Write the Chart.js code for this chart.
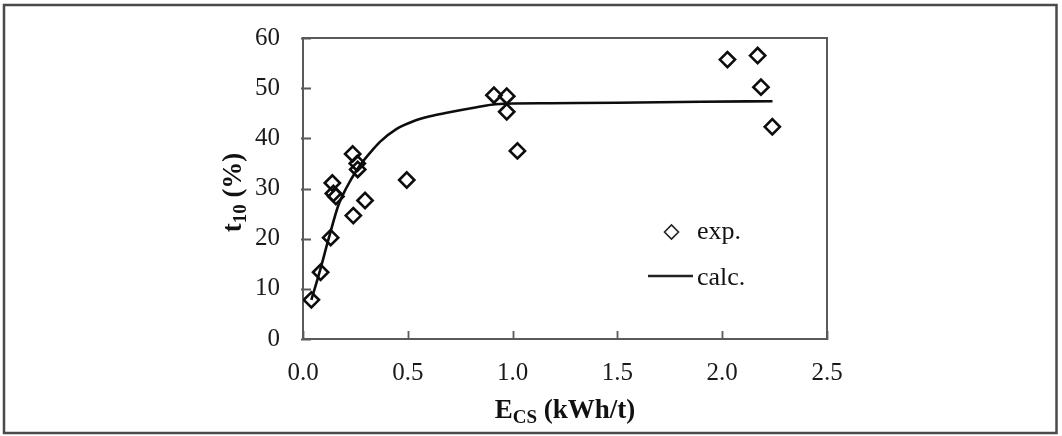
<!DOCTYPE html>
<html>
<head>
<meta charset="utf-8">
<script src="https://cdn.jsdelivr.net/npm/chart.js@4.4.0/dist/chart.umd.min.js"></script>
<style>
html,body{margin:0;padding:0;background:#ffffff;}
canvas{display:block;}
</style>
</head>
<body>
<canvas id="c" width="1062" height="436"></canvas>
<script>
// ---- data ----
const expE   = [0.04, 0.084, 0.132, 0.140, 0.145, 0.157, 0.240, 0.237, 0.259, 0.261, 0.296, 0.495, 0.911, 0.972, 0.972, 1.023, 2.025, 2.169, 2.185, 2.239];
const expT10 = [7.8, 13.3, 20.2, 31.1, 29.0, 28.4, 24.6, 36.9, 35.0, 33.8, 27.6, 31.7, 48.6, 48.4, 45.3, 37.5, 55.7, 56.5, 50.2, 42.3];
const calcE   = [0.04, 0.08, 0.125, 0.17, 0.208, 0.255, 0.288, 0.33, 0.367, 0.447, 0.526, 0.606, 0.686, 0.829, 0.92, 1.18, 1.50, 1.90, 2.24];
const calcT10 = [7.8, 13.5, 20.4, 26.8, 30.2, 33.6, 35.5, 37.6, 39.3, 41.9, 43.4, 44.4, 45.1, 46.2, 46.8, 47.0, 47.1, 47.3, 47.4];
const xTickValues = [0.0, 0.5, 1.0, 1.5, 2.0, 2.5];
const yTickValues = [0, 10, 20, 30, 40, 50, 60];
const seriesNames = ['exp.', 'calc.'];
const xTitleParts = ['E', 'CS', ' (kWh/t)'];
const yTitleParts = ['t', '10', ' (%)'];

const SERIF = '"Liberation Serif", "Times New Roman", serif';

const decorPlugin = {
  id: 'decor',
  beforeDatasetsDraw(chart) {
    const ctx = chart.ctx;
    const a = chart.chartArea;
    const xs = chart.scales.x, ys = chart.scales.y;
    ctx.save();
    // outer picture frame
    ctx.strokeStyle = '#4a4a4a';
    ctx.lineWidth = 2.5;
    ctx.strokeRect(4, 5, 1052.5, 428);
    // plot frame
    ctx.strokeStyle = '#5a5a5a';
    ctx.lineWidth = 2;
    ctx.strokeRect(a.left, a.top, a.right - a.left, a.bottom - a.top);
    // tick marks (inside)
    ctx.lineWidth = 1.8;
    ctx.beginPath();
    yTickValues.forEach(v => {
      const py = Math.round(ys.getPixelForValue(v)) + 0.5;
      ctx.moveTo(a.left - 2, py); ctx.lineTo(a.left + 8, py);
    });
    xTickValues.forEach(v => {
      const px = Math.round(xs.getPixelForValue(v)) + 0.5;
      ctx.moveTo(px, a.bottom + 1); ctx.lineTo(px, a.bottom - 8);
    });
    ctx.stroke();
    ctx.restore();
  },
  afterDraw(chart) {
    const ctx = chart.ctx;
    const a = chart.chartArea;
    ctx.save();
    ctx.fillStyle = '#111';
    // x title with subscript
    const big = 'bold 27px ' + SERIF, small = 'bold 19px ' + SERIF;
    ctx.font = big; const w0 = ctx.measureText(xTitleParts[0]).width;
    ctx.font = small; const w1 = ctx.measureText(xTitleParts[1]).width;
    ctx.font = big; const w2 = ctx.measureText(xTitleParts[2]).width;
    let x = (a.left + a.right) / 2 - (w0 + w1 + w2) / 2;
    const base = 418;
    ctx.textBaseline = 'alphabetic'; ctx.textAlign = 'left';
    ctx.font = big; ctx.fillText(xTitleParts[0], x, base); x += w0;
    ctx.font = small; ctx.fillText(xTitleParts[1], x, base + 5); x += w1;
    ctx.font = big; ctx.fillText(xTitleParts[2], x, base);
    // y title rotated
    ctx.font = big; const v0 = ctx.measureText(yTitleParts[0]).width;
    ctx.font = small; const v1 = ctx.measureText(yTitleParts[1]).width;
    ctx.font = big; const v2 = ctx.measureText(yTitleParts[2]).width;
    ctx.translate(241, (a.top + a.bottom) / 2 + 4);
    ctx.rotate(-Math.PI / 2);
    let t = -(v0 + v1 + v2) / 2;
    ctx.font = big; ctx.fillText(yTitleParts[0], t, 0); t += v0;
    ctx.font = small; ctx.fillText(yTitleParts[1], t, 5); t += v1;
    ctx.font = big; ctx.fillText(yTitleParts[2], t, 0);
    ctx.setTransform(1, 0, 0, 1, 0, 0);
    // legend
    ctx.font = '26px ' + SERIF;
    ctx.fillStyle = '#111';
    ctx.strokeStyle = '#222';
    ctx.lineWidth = 1.6;
    ctx.beginPath();
    const dx = 671.5, dy = 232, r = 7;
    ctx.moveTo(dx - r, dy); ctx.lineTo(dx, dy - r); ctx.lineTo(dx + r, dy); ctx.lineTo(dx, dy + r); ctx.closePath();
    ctx.stroke();
    ctx.fillText(seriesNames[0], 697, 239);
    ctx.lineWidth = 2.6;
    ctx.beginPath(); ctx.moveTo(648, 276); ctx.lineTo(693, 276); ctx.stroke();
    ctx.fillText(seriesNames[1], 697, 285);
    ctx.restore();
  }
};

new Chart(document.getElementById('c'), {
  type: 'scatter',
  data: {
    datasets: [
      {
        label: seriesNames[0],
        data: expE.map((e, i) => ({x: e, y: expT10[i]})),
        pointStyle: 'rectRot',
        pointRadius: 7.6,
        pointBorderWidth: 2.6,
        borderColor: '#0d0d0d',
        backgroundColor: 'rgba(0,0,0,0)',
        showLine: false,
        order: 1
      },
      {
        label: seriesNames[1],
        data: calcE.map((e, i) => ({x: e, y: calcT10[i]})),
        showLine: true,
        pointRadius: 0,
        borderColor: '#0d0d0d',
        borderWidth: 2.6,
        cubicInterpolationMode: 'monotone',
        fill: false,
        order: 2
      }
    ]
  },
  options: {
    responsive: false,
    animation: false,
    devicePixelRatio: 1,
    events: [],
    layout: { padding: { top: 24, right: 235, left: 0, bottom: 0 } },
    plugins: { legend: { display: false }, tooltip: { enabled: false } },
    scales: {
      x: {
        type: 'linear', position: 'bottom', min: 0, max: 2.5,
        afterFit: s => { s.height = 97; },
        afterBuildTicks: s => { s.ticks = xTickValues.map(v => ({value: v})); },
        grid: { display: false, drawTicks: false },
        border: { display: false },
        ticks: { padding: 19, color: '#1a1a1a', font: { family: SERIF, size: 25 }, callback: v => Number(v).toFixed(1), maxRotation: 0 }
      },
      y: {
        type: 'linear', position: 'left', min: 0, max: 60,
        afterFit: s => { s.width = 303; },
        afterBuildTicks: s => { s.ticks = yTickValues.map(v => ({value: v})); },
        grid: { display: false, drawTicks: false },
        border: { display: false },
        ticks: { padding: 23, color: '#1a1a1a', font: { family: SERIF, size: 25 }, callback: v => String(v) }
      }
    }
  },
  plugins: [decorPlugin]
});
</script>
</body>
</html>
